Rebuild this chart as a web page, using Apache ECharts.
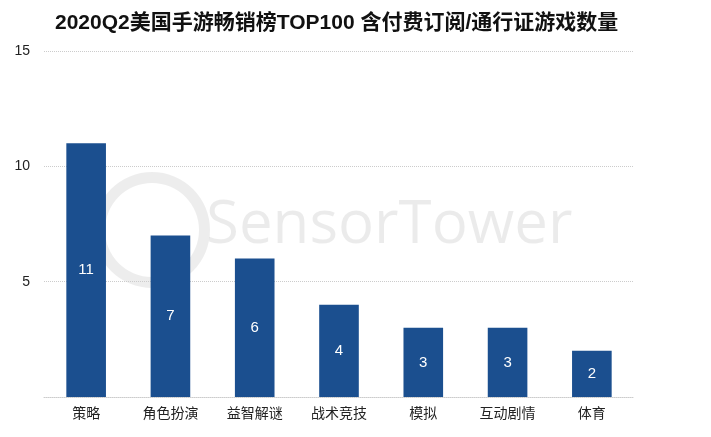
<!DOCTYPE html>
<html><head><meta charset="utf-8">
<script src="https://cdn.jsdelivr.net/npm/echarts@6/dist/echarts.min.js"></script>
<style>html,body{margin:0;padding:0;background:#fff}#c{width:711px;height:437px}</style>
</head><body><div id="c"></div>
<script>
const titleText = '2020Q2美国手游畅销榜TOP100 含付费订阅/通行证游戏数量';
const categories = ['策略','角色扮演','益智解谜','战术竞技','模拟','互动剧情','体育'];
const counts = [11, 7, 6, 4, 3, 3, 2];
const yTicks = [0, 5, 10, 15];

const chart = echarts.init(document.getElementById('c'));
const font = '"Liberation Sans", "Noto Sans CJK SC", sans-serif';
chart.setOption({
  backgroundColor: '#fff',
  animation: false,
  title: {
    text: titleText, left: 50, top: 8,
    textStyle: {fontFamily: font, fontSize: 21, fontWeight: 'bold', color: '#111'}
  },
  graphic: [
    {type: 'ring', z: 0, shape: {cx: 152, cy: 230, r: 58, r0: 47}, style: {fill: 'rgba(0,0,0,0.07)'}},
    {type: 'text', z: 0, left: 206, top: 196, style: {text: 'SensorTower', font: '60px "Open Sans", sans-serif', fill: 'rgba(0,0,0,0.08)'}}
  ],
  grid: {left: 44, right: 77, top: 51, bottom: 40},
  xAxis: {
    type: 'category', data: categories,
    axisLine: {show: true, lineStyle: {color: '#ccc', type: 'dotted'}},
    axisTick: {show: false},
    axisLabel: {fontFamily: font, fontSize: 14, color: '#222', margin: 10}
  },
  yAxis: {
    type: 'value', min: yTicks[0], max: yTicks[yTicks.length-1], interval: 5,
    axisLine: {show: false}, axisTick: {show: false},
    splitLine: {lineStyle: {color: '#ccc', type: 'dotted'}},
    axisLabel: {fontFamily: font, fontSize: 14, color: '#222', margin: 14,
      formatter: v => v === 0 ? '' : String(v)}
  },
  series: [{
    type: 'bar', data: counts, barWidth: '47%', z: 2,
    itemStyle: {color: '#1b4f8f'},
    label: {show: true, position: 'inside', color: '#fff', fontSize: 15, fontFamily: font}
  }]
});
</script></body></html>
